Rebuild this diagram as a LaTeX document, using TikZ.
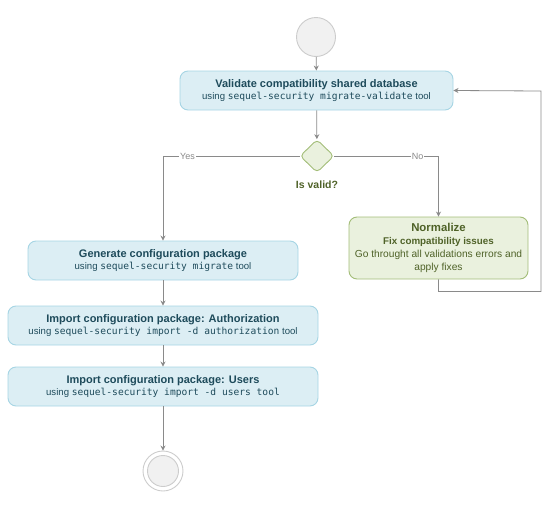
\documentclass[tikz,border=0pt]{standalone}
\usepackage{fontspec}
\setmainfont{Liberation Sans}
\setmonofont{DejaVu Sans Mono}
\usetikzlibrary{arrows.meta,shapes.geometric}
\definecolor{bluefill}{HTML}{DCEEF4}
\definecolor{blueline}{HTML}{A6D5E4}
\definecolor{bluetext}{HTML}{1E4B5B}
\definecolor{greenfill}{HTML}{EAF1DE}
\definecolor{greenline}{HTML}{A3BD78}
\definecolor{greentext}{HTML}{4F6228}
\definecolor{linegray}{HTML}{8A8A8A}
\definecolor{circfill}{HTML}{F1F1F1}
\definecolor{circline}{HTML}{CCCCCC}
\tikzset{
  actbox/.style={draw=blueline, fill=bluefill, line width=0.9pt, rounded corners=8pt,
    text=bluetext, align=center, inner sep=0pt, minimum height=39pt, font=\fontsize{11}{14}\selectfont},
  subline/.style={},
  greenbox/.style={draw=greenline, fill=greenfill, line width=0.9pt, rounded corners=8pt,
    text=greentext, align=center, inner sep=0pt, minimum height=62pt, minimum width=179pt, font=\fontsize{10.2}{13}\selectfont},
  startc/.style={circle, draw=circline, fill=circfill, line width=0.9pt, minimum size=39pt, inner sep=0pt},
  conn/.style={draw=linegray, line width=0.8pt, -{Stealth[length=5pt,width=5pt]}},
  lbl/.style={fill=white, text=linegray, inner sep=1pt, font=\fontsize{9}{10}\selectfont},
}
\newcommand{\subtxt}{\fontsize{9.6}{11}\selectfont}
\begin{document}
\begin{tikzpicture}[x=1pt,y=-1pt]
\useasboundingbox (0,0) rectangle (560,509);
\node[startc] (start) at (316,37) {};
\node[actbox, minimum width=273pt] (val) at (316.5,90.5)
  {\textbf{Validate compatibility shared database}\\[-1.5pt]
   {\subtxt using \texttt{sequel-security migrate-validate} tool}};
\node[diamond, draw=greenline, fill=greenfill, line width=0.9pt, rounded corners=4pt,
  minimum width=34pt, minimum height=33pt, inner sep=0pt] (dia) at (317,156) {};
\node[text=greentext, font=\bfseries\fontsize{10.5}{12}\selectfont] (isvalid) at (317,185) {Is valid?};
\node[actbox, minimum width=270pt] (gen) at (163,260.5)
  {\textbf{Generate configuration package}\\[-1.5pt]
   {\subtxt using \texttt{sequel-security migrate} tool}};
\node[actbox, minimum width=310pt] (auth) at (163,325.5)
  {\textbf{Import configuration package: Authorization}\\[-1.5pt]
   {\subtxt using \texttt{sequel-security import -d authorization} tool}};
\node[actbox, minimum width=310pt] (users) at (163,386.5)
  {\textbf{Import configuration package: Users}\\[-1.5pt]
   {\subtxt using \texttt{sequel-security import -d users tool}}};
\node[greenbox] (norm) at (438.5,248)
  {{\bfseries\fontsize{11.4}{13}\selectfont Normalize}\\
   {\bfseries\fontsize{9.8}{12}\selectfont Fix compatibility issues}\\
   Go throught all validations errors and\\
   apply fixes};
\node[circle, draw=circline, fill=white, line width=0.9pt, minimum size=40pt, inner sep=0pt] (endo) at (163,471) {};
\node[circle, draw=circline, fill=circfill, line width=0.9pt, minimum size=31pt, inner sep=0pt] (endi) at (163,471) {};
\coordinate (loopR) at (541,91);
\draw[conn] (start) -- (val);
\draw[conn] (val) -- (dia);
\draw[conn] (dia.west) -| node[lbl, pos=0.41] {Yes} (gen.north);
\draw[conn] (dia.east) -| node[lbl, pos=0.4] {No} (norm.north);
\draw[conn] (norm.south) -- ++(0,12) -| (loopR) -- (val.east);
\draw[conn] (gen) -- (auth);
\draw[conn] (auth) -- (users);
\draw[conn] (users) -- (endo);
\end{tikzpicture}
\end{document}
